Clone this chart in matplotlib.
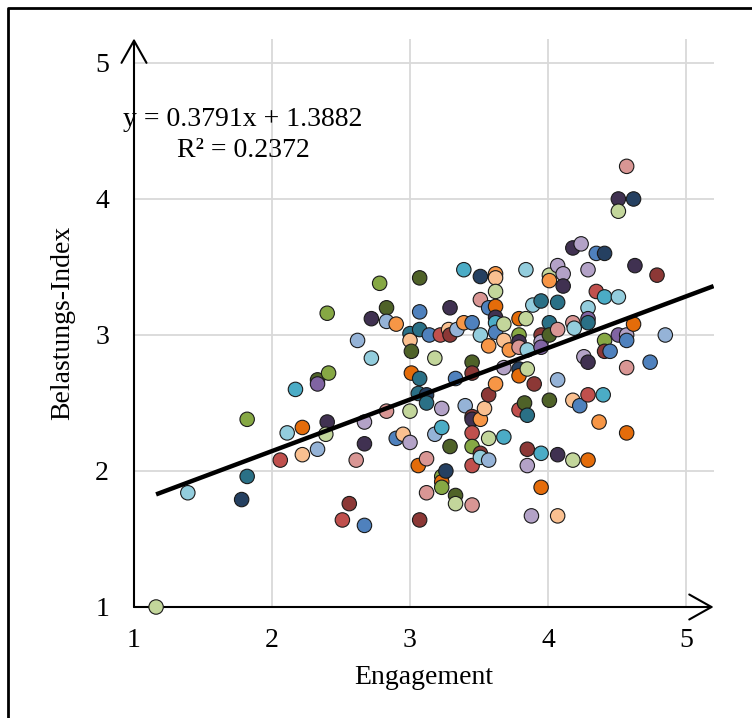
import matplotlib
matplotlib.use("Agg")
import matplotlib.pyplot as plt
from matplotlib.lines import Line2D
import numpy as np

# Engagement vs. Belastungs-Index, one point per respondent
engagement = [
    1.16, 1.39, 1.78, 1.82, 1.82, 2.06, 2.11, 2.17, 2.22, 2.22,
    2.33, 2.33, 2.33, 2.40, 2.39, 2.41, 2.40, 2.51, 2.56, 2.61,
    2.62, 2.67, 2.67, 2.67, 2.72, 2.72, 2.78, 2.83, 2.83, 2.83,
    2.90, 2.90, 2.95, 3.00, 3.00, 3.01, 3.01, 3.00, 3.00, 3.07,
    3.07, 3.07, 3.07, 3.06, 3.12, 3.12, 3.06, 3.07, 3.12, 3.12,
    3.14, 3.18, 3.18, 3.22, 3.23, 3.23, 3.23, 3.23, 3.23, 3.26,
    3.28, 3.29, 3.29, 3.29, 3.34, 3.33, 3.33, 3.33, 3.39, 3.39,
    3.40, 3.45, 3.45, 3.45, 3.45, 3.45, 3.45, 3.45, 3.45, 3.45,
    3.51, 3.51, 3.51, 3.51, 3.51, 3.51, 3.54, 3.57, 3.57, 3.57,
    3.57, 3.57, 3.62, 3.62, 3.62, 3.62, 3.62, 3.62, 3.62, 3.62,
    3.68, 3.68, 3.68, 3.68, 3.72, 3.79, 3.79, 3.79, 3.79, 3.79,
    3.79, 3.79, 3.84, 3.84, 3.85, 3.85, 3.83, 3.85, 3.85, 3.85,
    3.88, 3.89, 3.90, 3.95, 3.95, 3.95, 3.95, 3.95, 3.95, 4.01,
    4.01, 4.01, 4.01, 4.01, 4.07, 4.07, 4.07, 4.07, 4.07, 4.07,
    4.11, 4.11, 4.18, 4.18, 4.19, 4.18, 4.18, 4.24, 4.23, 4.26,
    4.29, 4.29, 4.29, 4.29, 4.29, 4.29, 4.29, 4.35, 4.35, 4.37,
    4.41, 4.41, 4.41, 4.41, 4.40, 4.45, 4.51, 4.51, 4.51, 4.51,
    4.57, 4.57, 4.57, 4.57, 4.57, 4.62, 4.62, 4.63, 4.74, 4.79,
    4.85,
]
belastung = [
    1.00, 1.84, 1.79, 1.96, 2.38, 2.08, 2.28, 2.60, 2.32, 2.12,
    2.16, 2.67, 2.64, 2.36, 2.27, 2.72, 3.16, 1.64, 1.76, 2.08,
    2.96, 1.60, 2.20, 2.36, 2.83, 3.12, 3.38, 3.20, 3.10, 2.44,
    3.08, 2.24, 2.27, 3.01, 2.96, 2.88, 2.72, 2.44, 2.21, 3.42,
    3.17, 3.04, 2.68, 2.57, 2.56, 2.50, 2.04, 1.64, 2.09, 1.84,
    3.00, 2.83, 2.27, 3.00, 2.32, 2.46, 1.96, 1.92, 1.88, 2.00,
    3.04, 3.00, 3.20, 2.18, 3.04, 2.68, 1.82, 1.76, 3.48, 3.09,
    2.48, 3.09, 2.80, 2.72, 2.40, 2.38, 2.28, 2.18, 2.04, 1.75,
    3.43, 3.26, 3.00, 2.38, 2.13, 2.10, 2.46, 3.20, 2.92, 2.56,
    2.24, 2.08, 3.45, 3.42, 3.32, 3.21, 3.13, 3.09, 3.02, 2.64,
    3.08, 2.96, 2.76, 2.25, 2.89, 3.12, 3.00, 2.95, 2.91, 2.75,
    2.70, 2.45, 3.48, 3.12, 2.89, 2.75, 2.50, 2.41, 2.16, 2.04,
    1.67, 3.22, 2.64, 3.25, 3.00, 2.95, 2.91, 2.13, 1.88, 3.44,
    3.40, 3.09, 3.00, 2.52, 3.51, 3.24, 3.04, 2.67, 2.12, 1.67,
    3.45, 3.36, 3.64, 3.09, 3.05, 2.52, 2.08, 3.67, 2.48, 2.84,
    3.48, 3.20, 3.12, 3.09, 2.80, 2.56, 2.08, 3.60, 3.32, 2.36,
    3.60, 3.28, 2.96, 2.88, 2.56, 2.88, 3.00, 4.00, 3.91, 3.28,
    4.24, 3.00, 2.96, 2.76, 2.28, 4.00, 3.08, 3.51, 2.80, 3.44,
    3.00,
]
# per-point fill, coded by palette key
point_codes = (
    "gaNTGRaAEo"
    "bDPVgGGRMr"
    "bBVpaVGDbr"
    "OBoToDEgpD"
    "BTTTNTEMrr"
    "BgbRApGEGN"
    "oMVDbBDgAO"
    "bBDMMVRGRr"
    "NraOMaoBOM"
    "gbOogEVABO"
    "gopAOEGVrN"
    "ERagagDTMp"
    "paMTMpPAEg"
    "OTDDpTrbVo"
    "pVVraogpBp"
    "paPTVREBRO"
    "NAGMABPVga"
    "rpBrENEVBM"
    "b"
)
palette = {
    "B": "#4F81BD", "b": "#95B3D7", "N": "#254061",
    "R": "#C0504D", "r": "#D99694", "M": "#8C3836",
    "G": "#86A844", "g": "#C3D69B", "D": "#4F6228",
    "P": "#8064A2", "p": "#B3A2C7", "V": "#403151",
    "A": "#4BACC6", "a": "#93CDDD", "T": "#2A7086",
    "O": "#F79646", "o": "#FAC090", "E": "#E46C0A",
}
slope, intercept, r2 = 0.3791, 1.3882, 0.2372

x_ticks = [1, 2, 3, 4, 5]
y_ticks = [1, 2, 3, 4, 5]
XMAX, YMAX = 5.2, 5.18
FS = 20

plt.rcParams["font.family"] = ["Liberation Serif", "DejaVu Serif"]

fig = plt.figure(figsize=(7.52, 7.18), dpi=100)
ax = fig.add_axes([134 / 752, 111 / 718, 579.6 / 752, 568.5 / 718])
ax.set_xlim(1, XMAX)
ax.set_ylim(1, YMAX)

for t in x_ticks[1:]:
    ax.axvline(t, color="#d9d9d9", lw=1.3, zorder=0)
for t in y_ticks[1:]:
    ax.axhline(t, color="#d9d9d9", lw=1.3, zorder=0)

colors = [palette[c] for c in point_codes]
ax.scatter(engagement, belastung, s=108, c=colors, edgecolors="#1a1a1a",
           linewidths=0.8, zorder=3, clip_on=False)

xs = np.array([min(engagement), XMAX])
ax.plot(xs, slope * xs + intercept, color="black", lw=3.2, zorder=4,
        solid_capstyle="butt")

# axes drawn as arrows
arrow = dict(arrowstyle="->,head_length=0.8,head_width=0.45", color="black",
             lw=1.5, shrinkA=0, shrinkB=0, mutation_scale=20)
ax.annotate("", xy=(XMAX, 1), xytext=(1, 1), arrowprops=arrow,
            annotation_clip=False, zorder=2)
ax.annotate("", xy=(1, YMAX), xytext=(1, 1), arrowprops=arrow,
            annotation_clip=False, zorder=2)
for s in ax.spines.values():
    s.set_visible(False)

ax.set_xticks(x_ticks)
ax.set_yticks(y_ticks)
ax.tick_params(length=0, labelsize=FS, pad=15)
ax.tick_params(axis="y", pad=18)
ax.set_xlabel("Engagement", fontsize=FS, labelpad=9)
ax.set_ylabel("Belastungs-Index", fontsize=FS, labelpad=14)

ax.text(1.79, 4.47, f"y = {slope:.4f}x + {intercept:.4f}\nR² = {r2:.4f}",
        ha="center", va="center", fontsize=FS, multialignment="center",
        linespacing=1.35, zorder=5)

# outer frame
fig.add_artist(Line2D([8 / 752, 8 / 752, 1.0], [0.0, 1 - 8 / 718, 1 - 8 / 718],
                      transform=fig.transFigure, color="black", lw=2.0))

fig.savefig("out.png", dpi=100)
